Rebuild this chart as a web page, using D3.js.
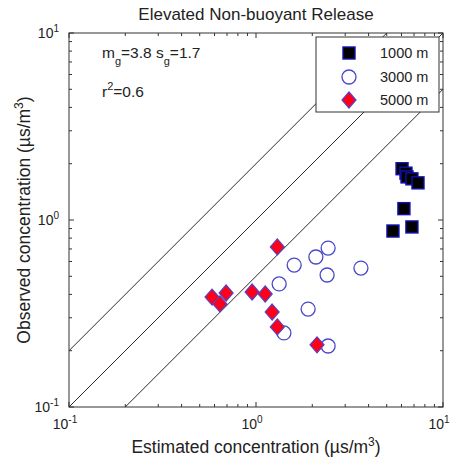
<!DOCTYPE html>
<html>
<head>
    <title>Elevated Non-buoyant Release</title>
    <style>
    body { margin: 0; background: #fff; }
    svg text { font-family: "Liberation Sans", Arial, sans-serif; fill: #222; }
    .frame { fill: none; stroke: #333; stroke-width: 1; }
    .tick line { stroke: #333; }
    </style>
</head>
<body>
<svg id="chart"></svg>
<script src="https://d3js.org/d3.v7.min.js"></script>
<script>
// values (estimated vs observed, us/m3)
var series_names = ['1000 m', '3000 m', '5000 m'];

var est_1000 = [6.04, 6.34, 6.42, 6.82, 7.35, 6.18, 5.40, 6.82];
var obs_1000 = [1.88, 1.78, 1.70, 1.66, 1.58, 1.15, 0.873, 0.918];

var est_3000 = [2.43, 2.09, 1.60, 2.40, 3.64, 1.33, 1.90, 1.41, 2.43];
var obs_3000 = [0.708, 0.634, 0.574, 0.508, 0.553, 0.455, 0.334, 0.249, 0.212];

var est_5000 = [1.30, 0.582, 0.692, 0.641, 0.953, 1.12, 1.22, 1.30, 2.12];
var obs_5000 = [0.718, 0.387, 0.407, 0.356, 0.412, 0.402, 0.322, 0.268, 0.215];

// factor-of-two lines: y = k * x
var line_factors = [2, 1, 0.5];
var major_ticks = [0.1, 1, 10];
var tick_exps = ['-1', '0', '1'];

var W = 452, H = 465;
var margin = { top: 33, right: 9, bottom: 58, left: 69 };
var width = W - margin.left - margin.right;
var height = H - margin.top - margin.bottom;

var svg = d3.select('#chart').attr('width', W).attr('height', H);

var x = d3.scaleLog().domain([0.1, 10]).range([0, width]);
var y = d3.scaleLog().domain([0.1, 10]).range([height, 0]);

var g = svg.append('g')
    .attr('transform', 'translate(' + margin.left + ',' + margin.top + ')');

// minor + major ticks, pointing inward on all four sides
var minor = [];
[0.1, 1].forEach(function(d) {
    for (var k = 2; k <= 9; k++) minor.push(d * k);
});

function tickMarks(sel, vals, len) {
    vals.forEach(function(v) {
        var px = x(v), py = y(v);
        sel.append('line').attr('x1', px).attr('x2', px).attr('y1', height).attr('y2', height - len);
        sel.append('line').attr('x1', px).attr('x2', px).attr('y1', 0).attr('y2', len);
        sel.append('line').attr('x1', 0).attr('x2', len).attr('y1', py).attr('y2', py);
        sel.append('line').attr('x1', width).attr('x2', width - len).attr('y1', py).attr('y2', py);
    });
}
var ticks = g.append('g').attr('class', 'tick');
tickMarks(ticks, minor, 3);
tickMarks(ticks, major_ticks, 5);

// 1:2, 1:1, 2:1 lines clipped to the plot
svg.append('clipPath').attr('id', 'plotclip')
    .append('rect').attr('width', width).attr('height', height);

g.append('g').attr('clip-path', 'url(#plotclip)')
    .selectAll('line.ref').data(line_factors).enter()
    .append('line')
    .attr('class', 'ref')
    .attr('x1', x(0.05)).attr('y1', function(k) { return y(0.05 * k); })
    .attr('x2', x(20)).attr('y2', function(k) { return y(20 * k); })
    .attr('stroke', '#111').attr('stroke-width', 0.9);

// tick labels 10^n
function powLabel(sel, xp, yp, exp, anchor) {
    var t = sel.append('text').attr('x', xp).attr('y', yp)
        .attr('font-size', 14).attr('text-anchor', anchor);
    t.append('tspan').text('10');
    t.append('tspan').attr('dy', -6).attr('font-size', 10).text(exp);
}
major_ticks.forEach(function(v, i) {
    powLabel(g, x(v) - 4, height + 22, tick_exps[i], 'middle');
    powLabel(g, -10, y(v) + 5, tick_exps[i], 'end');
});

// markers
var pts1000 = est_1000.map(function(d, i) { return [d, obs_1000[i]]; });
var pts3000 = est_3000.map(function(d, i) { return [d, obs_3000[i]]; });
var pts5000 = est_5000.map(function(d, i) { return [d, obs_5000[i]]; });

var marks = g.append('g');

marks.selectAll('circle.s3000').data(pts3000).enter()
    .append('circle').attr('class', 's3000')
    .attr('cx', function(d) { return x(d[0]); })
    .attr('cy', function(d) { return y(d[1]); })
    .attr('r', 7)
    .attr('fill', 'none').attr('stroke', '#4848c8').attr('stroke-width', 1.3);

marks.selectAll('path.s5000').data(pts5000).enter()
    .append('path').attr('class', 's5000')
    .attr('d', 'M0,-8L7,0L0,8L-7,0Z')
    .attr('transform', function(d) { return 'translate(' + x(d[0]) + ',' + y(d[1]) + ')'; })
    .attr('fill', '#ff0018').attr('stroke', '#5a40c0').attr('stroke-width', 1.2);

marks.selectAll('rect.s1000').data(pts1000).enter()
    .append('rect').attr('class', 's1000')
    .attr('x', function(d) { return x(d[0]) - 6; })
    .attr('y', function(d) { return y(d[1]) - 6; })
    .attr('width', 12).attr('height', 12)
    .attr('fill', '#000').attr('stroke', '#1010b0').attr('stroke-width', 1.4);

// frame
g.append('rect').attr('class', 'frame').attr('width', width).attr('height', height);

// legend
var leg = g.append('g').attr('transform', 'translate(' + (316 - margin.left) + ',' + (37 - margin.top) + ')');
leg.append('rect').attr('width', 123).attr('height', 75)
    .attr('fill', '#fff').attr('stroke', '#333');
var rowY = [16, 40, 63];
leg.append('rect').attr('x', 27).attr('y', rowY[0] - 6).attr('width', 12).attr('height', 12)
    .attr('fill', '#000').attr('stroke', '#1010b0').attr('stroke-width', 1.4);
leg.append('circle').attr('cx', 33).attr('cy', rowY[1]).attr('r', 7)
    .attr('fill', 'none').attr('stroke', '#4848c8').attr('stroke-width', 1.3);
leg.append('path').attr('d', 'M0,-8L7,0L0,8L-7,0Z')
    .attr('transform', 'translate(33,' + rowY[2] + ')')
    .attr('fill', '#ff0018').attr('stroke', '#5a40c0').attr('stroke-width', 1.2);
series_names.forEach(function(s, i) {
    leg.append('text').attr('x', 64).attr('y', rowY[i] + 5)
        .attr('font-size', 14.5).text(s);
});

// statistics text
var st = g.append('text').attr('x', 102 - margin.left).attr('y', 58 - margin.top).attr('font-size', 15.5);
st.append('tspan').text('m');
st.append('tspan').attr('dy', 7).attr('font-size', 11).text('g');
st.append('tspan').attr('dy', -7).text('=3.8 s');
st.append('tspan').attr('dy', 7).attr('font-size', 11).text('g');
st.append('tspan').attr('dy', -7).text('=1.7');

var r2 = g.append('text').attr('x', 102 - margin.left).attr('y', 97 - margin.top).attr('font-size', 15.5);
r2.append('tspan').text('r');
r2.append('tspan').attr('dy', -7).attr('font-size', 11).text('2');
r2.append('tspan').attr('dy', 7).text('=0.6');

// title and axis labels
svg.append('text').attr('x', margin.left + width / 2).attr('y', 20)
    .attr('text-anchor', 'middle').attr('font-size', 17)
    .text('Elevated Non-buoyant Release');

var xl = svg.append('text').attr('x', margin.left + width / 2).attr('y', 453)
    .attr('text-anchor', 'middle').attr('font-size', 17.5);
xl.append('tspan').text('Estimated concentration (\u00b5s/m');
xl.append('tspan').attr('dy', -7).attr('font-size', 12).text('3');
xl.append('tspan').attr('dy', 7).text(')');

var yl = svg.append('text')
    .attr('transform', 'translate(30,' + (margin.top + height / 2) + ') rotate(-90)')
    .attr('text-anchor', 'middle').attr('font-size', 17.5);
yl.append('tspan').text('Observed concentration (\u00b5s/m');
yl.append('tspan').attr('dy', -7).attr('font-size', 12).text('3');
yl.append('tspan').attr('dy', 7).text(')');
</script>
</body>
</html>
